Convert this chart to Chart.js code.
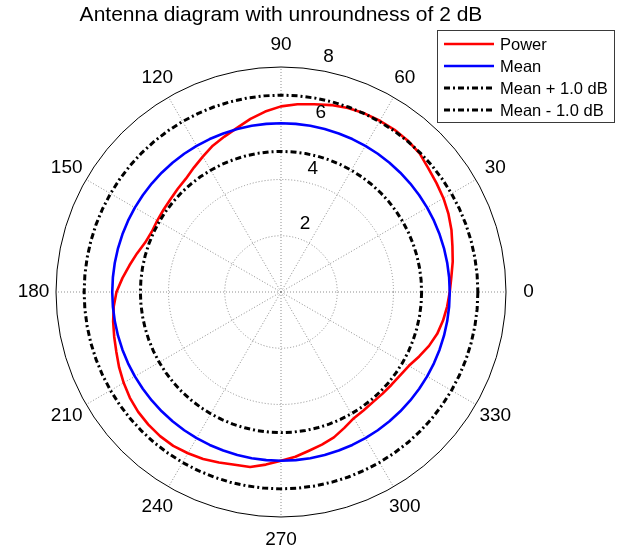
<!DOCTYPE html>
<html>
<head>
<meta charset="utf-8">
<title>Antenna diagram</title>
<script src="https://cdn.jsdelivr.net/npm/chart.js@4.4.1/dist/chart.umd.min.js"></script>
<style>
  html, body { margin: 0; padding: 0; background: #ffffff; }
  #wrap { width: 624px; height: 551px; }
</style>
</head>
<body>
<div id="wrap"><canvas id="chart" width="624" height="551"></canvas></div>
<script>
// Measurement angles in degrees (counter-clockwise from 0 = east)
const angles = [
  0, 5, 10, 15, 20, 25, 30, 35, 40, 45, 50, 55,
  60, 65, 70, 75, 80, 85, 90, 95, 100, 105, 110, 115,
  120, 125, 130, 135, 140, 145, 150, 155, 160, 165, 170, 175,
  180, 185, 190, 195, 200, 205, 210, 215, 220, 225, 230, 235,
  240, 245, 250, 255, 260, 265, 270, 275, 280, 285, 290, 295,
  300, 305, 310, 315, 320, 325, 330, 335, 340, 345, 350, 355
];

// Received power at each angle
const power = [
  6.00, 6.08, 6.20, 6.31, 6.45, 6.57, 6.67, 6.75, 6.84, 6.97, 7.02, 7.04,
  7.03, 7.01, 6.96, 6.88, 6.78, 6.70, 6.60, 6.44, 6.25, 6.04, 5.88, 5.74,
  5.56, 5.40, 5.26, 5.19, 5.13, 5.10, 5.08, 5.07, 5.14, 5.30, 5.47, 5.66,
  5.85, 5.97, 6.06, 6.14, 6.23, 6.35, 6.46, 6.56, 6.63, 6.67, 6.69, 6.68,
  6.62, 6.55, 6.45, 6.36, 6.32, 6.16, 6.00, 5.88, 5.73, 5.62, 5.50, 5.33,
  5.18, 5.13, 5.10, 5.11, 5.13, 5.17, 5.25, 5.42, 5.60, 5.75, 5.85, 5.93
];

// Mean level and the +/- band around it
const meanLevel = 6.0;
const bandDb = 1.0;

// Radius ticks and spoke labels
const radiusTicks = [2, 4, 6, 8];
const spokeLabels = [0, 30, 60, 90, 120, 150, 180, 210, 240, 270, 300, 330];

const FONT = "'Liberation Sans', Arial, sans-serif";

// The radial scale runs clockwise from its start angle, so walk the
// angles in clockwise order starting at 0 (east).
const order = angles.map((_, i) => (angles.length - i) % angles.length);
const labels = order.map(k => angles[k]);
const powerSeries = order.map(k => power[k]);
const meanSeries = order.map(() => meanLevel);
const upperSeries = order.map(() => meanLevel + bandDb);
const lowerSeries = order.map(() => meanLevel - bandDb);

const GRID_GREY = '#8f8f8f';

// White page background
const backgroundPlugin = {
  id: 'background',
  beforeDraw(chart) {
    const ctx = chart.ctx;
    ctx.save();
    ctx.fillStyle = '#ffffff';
    ctx.fillRect(0, 0, chart.width, chart.height);
    ctx.restore();
  }
};

// Spoke angle labels and radius labels placed through the radial scale
const polarLabelsPlugin = {
  id: 'polarLabels',
  afterDraw(chart) {
    const scale = chart.scales.r;
    const ctx = chart.ctx;
    ctx.save();
    ctx.fillStyle = '#000000';
    ctx.font = '19px ' + FONT;

    // spoke labels at 1.1 x outer radius
    const labelDist = scale.getDistanceFromCenterForValue(scale.max * 1.1);
    ctx.textAlign = 'center';
    ctx.textBaseline = 'middle';
    labels.forEach((a, i) => {
      if (spokeLabels.indexOf(a) === -1) return;
      const p = scale.getPointPosition(i, labelDist);
      ctx.fillText(String(a), p.x, p.y);
    });

    // radius labels along the 82 degree direction
    const rad = 82 * Math.PI / 180;
    const lead = ctx.measureText('  ').width;
    ctx.textAlign = 'left';
    ctx.textBaseline = 'bottom';
    radiusTicks.forEach(v => {
      const d = scale.getDistanceFromCenterForValue(v + 0.1);
      const x = scale.xCenter + d * Math.cos(rad);
      const y = scale.yCenter - d * Math.sin(rad);
      ctx.fillText(String(v), x + lead, y);
    });
    ctx.restore();
  }
};

// Boxed legend in the top-right corner
const boxLegendPlugin = {
  id: 'boxLegend',
  afterDraw(chart) {
    const ctx = chart.ctx;
    const box = { x: 437, y: 30, w: 177, h: 92 };
    const rowH = 22;
    ctx.save();
    ctx.fillStyle = '#ffffff';
    ctx.fillRect(box.x, box.y, box.w, box.h);
    ctx.strokeStyle = '#3a3a3a';
    ctx.lineWidth = 1;
    ctx.strokeRect(box.x + 0.5, box.y + 0.5, box.w, box.h);

    ctx.font = '16.5px ' + FONT;
    ctx.textAlign = 'left';
    ctx.textBaseline = 'middle';
    chart.data.datasets.forEach((ds, i) => {
      const y = box.y + 14 + i * rowH;
      ctx.save();
      ctx.strokeStyle = ds.borderColor;
      ctx.lineWidth = ds.borderWidth;
      ctx.setLineDash(ds.borderDash || []);
      ctx.beginPath();
      ctx.moveTo(box.x + 7, y);
      ctx.lineTo(box.x + 57, y);
      ctx.stroke();
      ctx.restore();
      ctx.fillStyle = '#000000';
      ctx.fillText(ds.label, box.x + 63, y + 1);
    });
    ctx.restore();
  }
};

const dashDot = [6, 3, 2, 3];

new Chart(document.getElementById('chart'), {
  type: 'radar',
  data: {
    labels: labels,
    datasets: [
      { label: 'Power', data: powerSeries, borderColor: '#ff0000', borderWidth: 2.6, order: 4 },
      { label: 'Mean', data: meanSeries, borderColor: '#0000ff', borderWidth: 2.6, order: 3 },
      { label: 'Mean + 1.0 dB', data: upperSeries, borderColor: '#000000', borderWidth: 3, borderDash: dashDot, order: 2 },
      { label: 'Mean - 1.0 dB', data: lowerSeries, borderColor: '#000000', borderWidth: 3, borderDash: dashDot, order: 1 }
    ]
  },
  options: {
    responsive: false,
    devicePixelRatio: 1,
    animation: false,
    layout: { padding: { left: 56, right: 118, top: 0, bottom: 34 } },
    elements: {
      point: { radius: 0, hoverRadius: 0 },
      line: { fill: false, tension: 0, borderJoinStyle: 'round' }
    },
    scales: {
      r: {
        min: 0,
        max: 8,
        startAngle: 90,
        ticks: { stepSize: 2, display: false },
        pointLabels: { display: false },
        grid: {
          circular: true,
          color: ctx => (ctx.tick && ctx.tick.value === 8) ? '#000000' : GRID_GREY,
          lineWidth: 1
        },
        border: {
          dash: ctx => (ctx.tick && ctx.tick.value === 8) ? [] : [1, 2],
          dashOffset: 0
        },
        angleLines: {
          display: true,
          color: GRID_GREY,
          lineWidth: ctx => (spokeLabels.indexOf(labels[ctx.index]) !== -1) ? 1 : 0,
          borderDash: [1, 2]
        }
      }
    },
    plugins: {
      legend: { display: false },
      tooltip: { enabled: false },
      title: {
        display: true,
        text: 'Antenna diagram with unroundness of 2 dB',
        color: '#000000',
        font: { family: FONT, size: 21, weight: 'normal', lineHeight: 1.2 },
        padding: { top: 3, bottom: 38.8 }
      }
    }
  },
  plugins: [backgroundPlugin, polarLabelsPlugin, boxLegendPlugin]
});
</script>
</body>
</html>
